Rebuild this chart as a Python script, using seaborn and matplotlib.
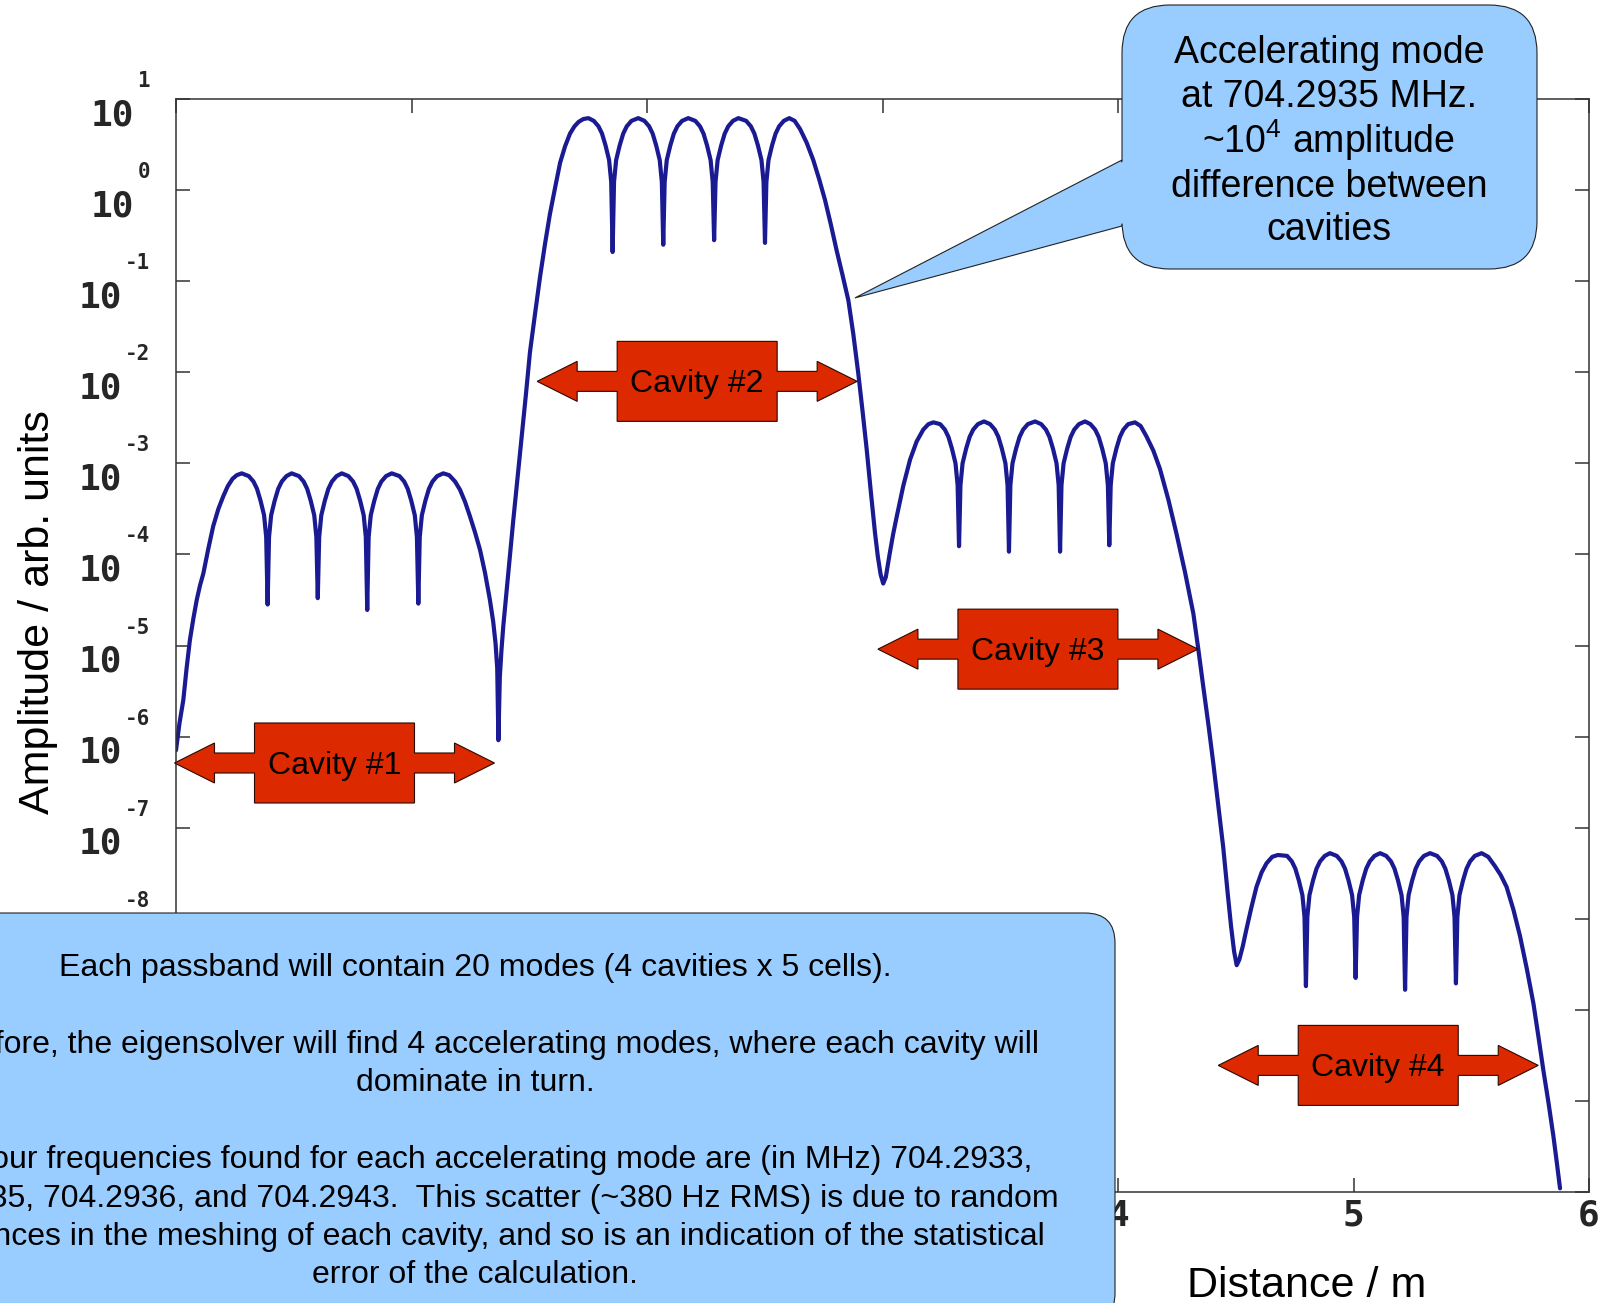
import matplotlib
matplotlib.use('Agg')
import matplotlib.pyplot as plt
import matplotlib.transforms as mtransforms
from matplotlib.patches import Polygon, FancyBboxPatch
from matplotlib.ticker import FixedLocator, NullFormatter, NullLocator
import numpy as np
import pandas as pd
import seaborn as sns

# field amplitude along the structure
# distance in m, amplitude given as log10 (arb. units)
cav1_x = [0.000, 0.015, 0.031, 0.045, 0.059, 0.074, 0.088, 0.102, 0.116, 0.137, 0.158,
          0.180, 0.201, 0.220, 0.240, 0.258, 0.279,
          0.309, 0.329, 0.344, 0.359, 0.374, 0.383, 0.389,
          0.395, 0.404, 0.419, 0.434, 0.449, 0.469, 0.491,
          0.522, 0.542, 0.557, 0.572, 0.587, 0.596, 0.602,
          0.608, 0.617, 0.632, 0.647, 0.662, 0.682, 0.704,
          0.732, 0.752, 0.767, 0.782, 0.797, 0.806, 0.812,
          0.818, 0.827, 0.842, 0.857, 0.872, 0.892, 0.916,
          0.949, 0.969, 0.984, 0.999, 1.014, 1.023, 1.029,
          1.035, 1.044, 1.059, 1.074, 1.089, 1.109, 1.135,
          1.160, 1.185, 1.206, 1.227, 1.248, 1.270, 1.291, 1.312, 1.333, 1.347, 1.357,
          1.364, 1.369]
cav1_logamp = [-6.15, -5.85, -5.60, -5.25, -4.94, -4.70, -4.50, -4.34, -4.21, -3.94, -3.69,
               -3.50, -3.36, -3.25, -3.17, -3.13, -3.11,
               -3.14, -3.20, -3.28, -3.41, -3.57, -3.81, -4.55,
               -3.81, -3.57, -3.41, -3.28, -3.20, -3.14, -3.11,
               -3.14, -3.20, -3.28, -3.41, -3.57, -3.81, -4.48,
               -3.81, -3.57, -3.41, -3.28, -3.20, -3.14, -3.11,
               -3.14, -3.20, -3.28, -3.41, -3.57, -3.81, -4.61,
               -3.81, -3.57, -3.41, -3.28, -3.20, -3.14, -3.11,
               -3.14, -3.20, -3.28, -3.41, -3.57, -3.81, -4.54,
               -3.81, -3.57, -3.41, -3.28, -3.20, -3.14, -3.11,
               -3.13, -3.20, -3.29, -3.42, -3.58, -3.76, -3.95, -4.20, -4.50, -4.74, -4.98,
               -5.25, -6.04]

cav2_x = [1.375, 1.382, 1.390, 1.411, 1.432, 1.450, 1.468, 1.486, 1.503, 1.525, 1.546,
          1.567, 1.588, 1.610, 1.631, 1.652, 1.673, 1.692, 1.710, 1.730, 1.751,
          1.774, 1.794, 1.809, 1.824, 1.839, 1.848, 1.854,
          1.860, 1.869, 1.884, 1.899, 1.914, 1.934, 1.963,
          1.989, 2.009, 2.024, 2.039, 2.054, 2.063, 2.069,
          2.075, 2.084, 2.099, 2.114, 2.129, 2.149, 2.175,
          2.205, 2.225, 2.240, 2.255, 2.270, 2.279, 2.285,
          2.291, 2.300, 2.315, 2.330, 2.345, 2.365, 2.388,
          2.421, 2.441, 2.456, 2.471, 2.486, 2.495, 2.501,
          2.507, 2.516, 2.531, 2.546, 2.561, 2.581, 2.604,
          2.627, 2.650, 2.678, 2.706, 2.731, 2.756, 2.780, 2.805, 2.830, 2.855,
          2.876, 2.897, 2.915, 2.933, 2.950, 2.968, 2.980, 2.992, 3.003]
cav2_logamp = [-5.35, -5.05, -4.78, -4.20, -3.63, -3.17, -2.71, -2.24, -1.78, -1.35, -0.95,
               -0.59, -0.26, 0.03, 0.30, 0.48, 0.62, 0.70, 0.75, 0.78, 0.79,
               0.76, 0.70, 0.62, 0.49, 0.33, 0.09, -0.68,
               0.09, 0.33, 0.49, 0.62, 0.70, 0.76, 0.79,
               0.76, 0.70, 0.62, 0.49, 0.33, 0.09, -0.60,
               0.09, 0.33, 0.49, 0.62, 0.70, 0.76, 0.79,
               0.76, 0.70, 0.62, 0.49, 0.33, 0.09, -0.55,
               0.09, 0.33, 0.49, 0.62, 0.70, 0.76, 0.79,
               0.76, 0.70, 0.62, 0.49, 0.33, 0.09, -0.58,
               0.09, 0.33, 0.49, 0.62, 0.70, 0.76, 0.79,
               0.76, 0.67, 0.52, 0.33, 0.12, -0.11, -0.37, -0.66, -0.93, -1.21,
               -1.58, -2.01, -2.42, -2.85, -3.30, -3.76, -4.02, -4.22, -4.32]

cav3_x = [3.014, 3.030, 3.045, 3.060, 3.088, 3.117, 3.145, 3.173, 3.195, 3.216,
          3.245, 3.265, 3.280, 3.295, 3.310, 3.319, 3.325,
          3.331, 3.340, 3.355, 3.370, 3.385, 3.405, 3.431,
          3.457, 3.477, 3.492, 3.507, 3.522, 3.531, 3.537,
          3.543, 3.552, 3.567, 3.582, 3.597, 3.617, 3.648,
          3.674, 3.694, 3.709, 3.724, 3.739, 3.748, 3.754,
          3.760, 3.769, 3.784, 3.799, 3.814, 3.834, 3.860,
          3.883, 3.903, 3.918, 3.933, 3.948, 3.957, 3.963,
          3.969, 3.978, 3.993, 4.008, 4.023, 4.043, 4.072,
          4.096, 4.120, 4.150, 4.178, 4.214, 4.249, 4.285, 4.320, 4.341, 4.362,
          4.384, 4.405, 4.426, 4.447, 4.465, 4.480, 4.493, 4.504]
cav3_logamp = [-4.25, -4.00, -3.78, -3.59, -3.25, -2.96, -2.76, -2.63, -2.57, -2.55,
               -2.57, -2.63, -2.71, -2.84, -3.00, -3.24, -3.91,
               -3.24, -3.00, -2.84, -2.71, -2.63, -2.57, -2.54,
               -2.57, -2.63, -2.71, -2.84, -3.00, -3.24, -3.97,
               -3.24, -3.00, -2.84, -2.71, -2.63, -2.57, -2.54,
               -2.57, -2.63, -2.71, -2.84, -3.00, -3.24, -3.97,
               -3.24, -3.00, -2.84, -2.71, -2.63, -2.57, -2.54,
               -2.57, -2.63, -2.71, -2.84, -3.00, -3.24, -3.90,
               -3.24, -3.00, -2.84, -2.71, -2.63, -2.57, -2.55,
               -2.59, -2.70, -2.86, -3.06, -3.40, -3.78, -4.20, -4.65, -5.04, -5.45,
               -5.87, -6.30, -6.76, -7.22, -7.70, -8.08, -8.36, -8.51]

cav4_x = [4.515, 4.530, 4.545, 4.566, 4.588, 4.610, 4.631, 4.655, 4.679,
          4.718, 4.738, 4.753, 4.768, 4.783, 4.792, 4.798,
          4.804, 4.813, 4.828, 4.843, 4.858, 4.878, 4.900,
          4.929, 4.949, 4.964, 4.979, 4.994, 5.003, 5.009,
          5.015, 5.024, 5.039, 5.054, 5.069, 5.089, 5.113,
          5.139, 5.159, 5.174, 5.189, 5.204, 5.213, 5.219,
          5.225, 5.234, 5.249, 5.264, 5.279, 5.299, 5.325,
          5.355, 5.375, 5.390, 5.405, 5.420, 5.429, 5.435,
          5.441, 5.450, 5.465, 5.480, 5.495, 5.515, 5.544,
          5.572, 5.600, 5.625, 5.650, 5.679, 5.707, 5.736, 5.764, 5.785, 5.806,
          5.828, 5.849, 5.863, 5.877]
cav4_logamp = [-8.45, -8.30, -8.12, -7.88, -7.65, -7.49, -7.39, -7.32, -7.30,
               -7.31, -7.37, -7.45, -7.58, -7.74, -7.98, -8.74,
               -7.98, -7.74, -7.58, -7.45, -7.37, -7.31, -7.28,
               -7.31, -7.37, -7.45, -7.58, -7.74, -7.98, -8.65,
               -7.98, -7.74, -7.58, -7.45, -7.37, -7.31, -7.28,
               -7.31, -7.37, -7.45, -7.58, -7.74, -7.98, -8.78,
               -7.98, -7.74, -7.58, -7.45, -7.37, -7.31, -7.28,
               -7.31, -7.37, -7.45, -7.58, -7.74, -7.98, -8.71,
               -7.98, -7.74, -7.58, -7.45, -7.37, -7.31, -7.28,
               -7.32, -7.42, -7.52, -7.65, -7.90, -8.19, -8.55, -8.93, -9.29, -9.66,
               -10.02, -10.39, -10.67, -10.96]

x_ticks = [0, 1, 2, 3, 4, 5, 6]
# labels under the note box are not visible in the original, so they are left blank
x_tick_labels = ['', '', '', '', '4', '5', '6']
y_exponents = list(range(-11, 2))
y_labelled_exponents = list(range(-8, 2))

cavity_labels = ['Cavity #1', 'Cavity #2', 'Cavity #3', 'Cavity #4']
cavity_label_x = [0.673, 2.213, 3.660, 5.105]
cavity_label_logy = [-6.29, -2.10, -5.04, -9.61]

callout_lines = ['Accelerating mode', 'at 704.2935 MHz.', r'~10$^4$ amplitude',
                 'difference between', 'cavities']
callout_tip = (2.883, -1.184)

note_lines = ['Each passband will contain 20 modes (4 cavities x 5 cells).',
              'Therefore, the eigensolver will find 4 accelerating modes, where each cavity will',
              'dominate in turn.',
              'The four frequencies found for each accelerating mode are (in MHz) 704.2933,',
              '704.2935, 704.2936, and 704.2943.  This scatter (~380 Hz RMS) is due to random',
              'differences in the meshing of each cavity, and so is an indication of the statistical',
              'error of the calculation.']

sns.set_theme(style='ticks')
plt.rcParams['font.family'] = ['Liberation Sans', 'DejaVu Sans']
plt.rcParams['mathtext.fontset'] = 'custom'
plt.rcParams['mathtext.rm'] = 'Liberation Sans'

W, H = 1604, 1303
fig = plt.figure(figsize=(W / 100, H / 100), dpi=100)
fig.patch.set_facecolor('white')
ax = fig.add_axes([176 / W, 1 - 1192 / H, (1589 - 176) / W, (1192 - 99) / H])
ax.set_facecolor('white')
ax.set_yscale('log')

df = pd.DataFrame({
    'distance': np.concatenate([cav1_x, cav2_x, cav3_x, cav4_x]),
    'amplitude': 10.0 ** np.concatenate([cav1_logamp, cav2_logamp, cav3_logamp, cav4_logamp]),
})
sns.lineplot(data=df, x='distance', y='amplitude', sort=False, estimator=None,
             color='#1a1a92', linewidth=3.0, solid_joinstyle='round', ax=ax)

ax.set_xlim(0, 6)
ax.set_ylim(1e-11, 1e1)
ax.set_xlabel('')
ax.set_ylabel('')
ax.xaxis.set_major_locator(FixedLocator(x_ticks))
ax.set_xticklabels(x_tick_labels)
ax.yaxis.set_major_locator(FixedLocator([10.0 ** e for e in y_exponents]))
ax.yaxis.set_minor_locator(NullLocator())
ax.xaxis.set_minor_locator(NullLocator())
ax.yaxis.set_major_formatter(NullFormatter())
ax.tick_params(direction='in', length=10, width=1.1, color='#333333',
               top=True, right=True)
ax.tick_params(axis='x', pad=5)
for lbl in ax.get_xticklabels():
    lbl.set_fontfamily('DejaVu Sans Mono')
    lbl.set_fontweight('bold')
    lbl.set_fontsize(26)
for s in ax.spines.values():
    s.set_color('#333333')
    s.set_linewidth(1.1)

# y tick labels drawn gnuplot style: bold "10" with a raised exponent
renderer = fig.canvas.get_renderer()
ytrans = ax.get_yaxis_transform()
for e in y_labelled_exponents:
    te = ax.text(0, 10.0 ** e, str(e), fontsize=15, family='DejaVu Sans Mono',
                 fontweight='bold', ha='right', va='baseline', clip_on=False,
                 transform=mtransforms.offset_copy(ytrans, fig=fig, x=-26, y=12, units='dots'))
    if e == -8:
        continue  # its "10" sits under the note box
    w = te.get_window_extent(renderer).width
    ax.text(0, 10.0 ** e, '10', fontsize=26, family='DejaVu Sans Mono', fontweight='bold',
            ha='right', va='baseline', clip_on=False,
            transform=mtransforms.offset_copy(ytrans, fig=fig, x=-29 - w, y=-26, units='dots'))

ax.text(-0.098, 0.5306, 'Amplitude / arb. units', transform=ax.transAxes, rotation=90,
        ha='center', va='center', fontsize=31, color='black')
ax.text(0.800, -0.0961, 'Distance / m', transform=ax.transAxes,
        ha='center', va='baseline', fontsize=31, color='black')

# red double arrows for each cavity
arrow_shape = np.array([(-160, 0), (-120, 20), (-120, 10), (-80, 10), (-80, 40), (80, 40),
                        (80, 10), (120, 10), (120, 20), (160, 0), (120, -20), (120, -10),
                        (80, -10), (80, -40), (-80, -40), (-80, -10), (-120, -10), (-120, -20)])
ident = mtransforms.IdentityTransform()
for name, cx, cly in zip(cavity_labels, cavity_label_x, cavity_label_logy):
    px, py = ax.transData.transform((cx, 10.0 ** cly))
    fig.add_artist(Polygon(arrow_shape + [px, py], closed=True, facecolor='#dc2900',
                           edgecolor='#2a0800', linewidth=0.8, transform=ident, zorder=2))
    fig.add_artist(plt.Text(px, py - 11, name, fontsize=23, color='black', ha='center',
                            va='baseline', transform=ident, zorder=3))

# callout balloon at the top right
blue = '#99ccff'
tx, ty = ax.transData.transform((callout_tip[0], 10.0 ** callout_tip[1]))
fig.add_artist(Polygon([(tx, ty), (1122, H - 160), (1122, H - 226)], closed=True,
                       facecolor=blue, edgecolor='#222222', linewidth=0.8,
                       transform=ident, zorder=4))
fig.add_artist(FancyBboxPatch((1122, H - 269), 415, 264,
                              boxstyle='round,pad=0,rounding_size=48',
                              facecolor=blue, edgecolor='#222222', linewidth=0.8,
                              transform=ident, zorder=4))
fig.add_artist(Polygon([(1108, H - 169.5), (1130, H - 158), (1130, H - 222), (1108, H - 226.5)],
                       closed=True, facecolor=blue, edgecolor='none',
                       transform=ident, zorder=4.1))
for line, yb in zip(callout_lines, [63, 107, 153, 197, 240]):
    fig.add_artist(plt.Text(1329, H - yb, line, fontsize=27, color='black', ha='center',
                            va='baseline', transform=ident, zorder=5))

# note box at the bottom left
fig.add_artist(FancyBboxPatch((-300, -20), 1115 + 300, H - 913 + 20,
                              boxstyle='round,pad=0,rounding_size=30',
                              facecolor=blue, edgecolor='#222222', linewidth=0.8,
                              transform=ident, zorder=4))
for line, yb in zip(note_lines, [976, 1053, 1091, 1168, 1207, 1245, 1283]):
    fig.add_artist(plt.Text(475, H - yb, line, fontsize=23, color='black', ha='center',
                            va='baseline', transform=ident, zorder=5))

fig.savefig('out.png', dpi=100)
